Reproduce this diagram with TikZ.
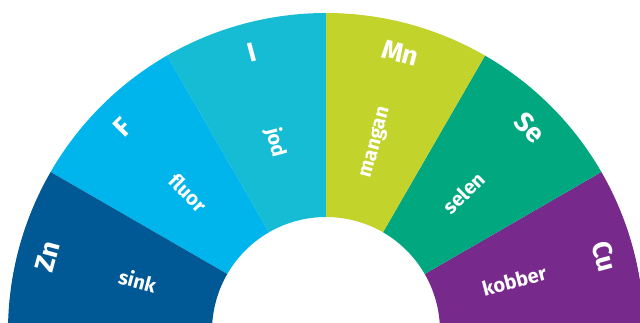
\documentclass[tikz,border=0pt]{standalone}
\usepackage{fontspec}
\setmainfont{Fira Sans}
\usepackage{tikz}
\usetikzlibrary{calc}

\definecolor{znblue}{RGB}{0,89,148}
\definecolor{fblue}{RGB}{0,181,236}
\definecolor{icyan}{RGB}{22,188,212}
\definecolor{mnlime}{RGB}{194,211,44}
\definecolor{segreen}{RGB}{0,167,127}
\definecolor{cupurple}{RGB}{120,42,140}

\tikzstyle{symlabel}=[text=white,font=\fontsize{27}{27}\selectfont\bfseries,inner sep=0pt]
\tikzstyle{namelabel}=[text=white,font=\fontsize{20}{20}\selectfont\bfseries,inner sep=0pt]

\begin{document}
\begin{tikzpicture}[x=1pt,y=1pt]
    \useasboundingbox (-326,9) rectangle (314,331);
    \def\rin{114};
    \def\rout{318};

%sectors
    \foreach \a/\col/\sym/\name/\nrot in {0/cupurple/Cu/kobber/15, 30/segreen/Se/selen/45, 60/mnlime/Mn/mangan/75, 90/icyan/I/jod/-75, 120/fblue/F/fluor/-45, 150/znblue/Zn/sink/-15}
    {
        \fill[\col] (\a:\rin) arc (\a:\a+30:\rin) -- (\a+30:\rout) arc (\a+30:\a:\rout) -- cycle;
        \node[symlabel, rotate=\a+15-90] (\sym) at (\a+15:288) {\sym};
        \node[namelabel, rotate=\nrot] (\name) at (\a+15:195) {\name};
    }

\end{tikzpicture}
\end{document}
